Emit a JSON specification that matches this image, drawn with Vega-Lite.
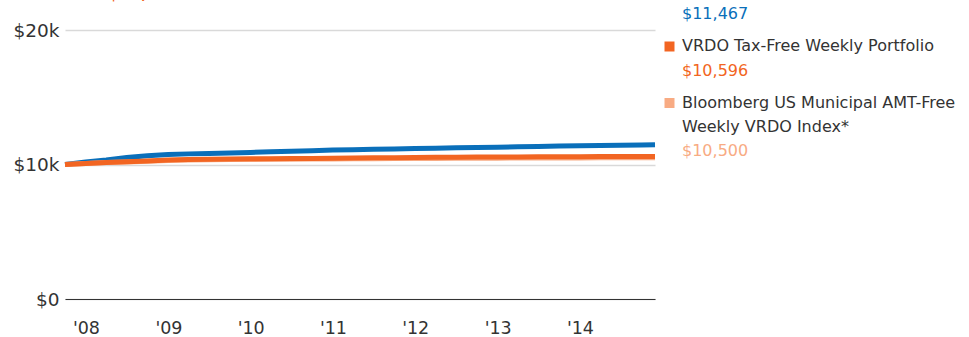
{
  "$schema": "https://vega.github.io/schema/vega-lite/v6.json",
  "padding": {"left": 12, "top": -16, "right": 0, "bottom": 0},
  "background": "white",
  "spacing": -1,
  "config": {"view": {"stroke": null}, "font": "DejaVu Sans"},
  "hconcat": [
    {
      "width": 590,
      "height": 269,
      "title": {"text": "Growth of $10,000", "anchor": "start", "frame": "bounds", "color": "#f26522", "fontSize": 16, "fontWeight": "bold", "font": "DejaVu Sans", "offset": 19},
      "data": {"values": [
        {"date": "2007-09-30", "Blue": 10000, "Index": 10000, "Fund": 10000},
        {"date": "2007-12-31", "Blue": 10180, "Index": 10075, "Fund": 10080},
        {"date": "2008-03-31", "Blue": 10330, "Index": 10140, "Fund": 10150},
        {"date": "2008-06-30", "Blue": 10520, "Index": 10185, "Fund": 10200},
        {"date": "2008-09-30", "Blue": 10650, "Index": 10240, "Fund": 10260},
        {"date": "2008-12-31", "Blue": 10750, "Index": 10305, "Fund": 10330},
        {"date": "2009-03-31", "Blue": 10790, "Index": 10340, "Fund": 10370},
        {"date": "2009-06-30", "Blue": 10820, "Index": 10360, "Fund": 10395},
        {"date": "2009-09-30", "Blue": 10850, "Index": 10370, "Fund": 10410},
        {"date": "2009-12-31", "Blue": 10900, "Index": 10378, "Fund": 10420},
        {"date": "2010-03-31", "Blue": 10940, "Index": 10386, "Fund": 10430},
        {"date": "2010-06-30", "Blue": 10990, "Index": 10394, "Fund": 10440},
        {"date": "2010-09-30", "Blue": 11030, "Index": 10403, "Fund": 10455},
        {"date": "2010-12-31", "Blue": 11070, "Index": 10412, "Fund": 10470},
        {"date": "2011-03-31", "Blue": 11100, "Index": 10422, "Fund": 10485},
        {"date": "2011-06-30", "Blue": 11130, "Index": 10432, "Fund": 10500},
        {"date": "2011-09-30", "Blue": 11160, "Index": 10440, "Fund": 10510},
        {"date": "2011-12-31", "Blue": 11185, "Index": 10447, "Fund": 10520},
        {"date": "2012-03-31", "Blue": 11210, "Index": 10454, "Fund": 10530},
        {"date": "2012-06-30", "Blue": 11240, "Index": 10461, "Fund": 10540},
        {"date": "2012-09-30", "Blue": 11265, "Index": 10467, "Fund": 10550},
        {"date": "2012-12-31", "Blue": 11290, "Index": 10473, "Fund": 10557},
        {"date": "2013-03-31", "Blue": 11320, "Index": 10478, "Fund": 10565},
        {"date": "2013-06-30", "Blue": 11345, "Index": 10483, "Fund": 10572},
        {"date": "2013-09-30", "Blue": 11370, "Index": 10487, "Fund": 10578},
        {"date": "2013-12-31", "Blue": 11390, "Index": 10491, "Fund": 10583},
        {"date": "2014-03-31", "Blue": 11410, "Index": 10494, "Fund": 10587},
        {"date": "2014-06-30", "Blue": 11430, "Index": 10497, "Fund": 10590},
        {"date": "2014-09-30", "Blue": 11450, "Index": 10499, "Fund": 10593},
        {"date": "2014-11-30", "Blue": 11467, "Index": 10500, "Fund": 10596}
      ]},
      "transform": [{"fold": ["Blue", "Index", "Fund"], "as": ["series", "value"]}],
      "mark": {"type": "line", "strokeWidth": 5, "strokeCap": "butt"},
      "encoding": {
        "x": {
          "field": "date", "type": "temporal",
          "axis": {"format": "'%y", "tickCount": {"interval": "year", "step": 1}, "ticks": false, "grid": false, "domain": true, "domainColor": "#333333", "domainWidth": 1, "labelFontSize": 17.5, "labelColor": "#333333", "labelPadding": 20.5, "labelFlush": false, "title": null}
        },
        "y": {
          "field": "value", "type": "quantitative",
          "scale": {"domain": [0, 20000], "nice": false},
          "axis": {"values": [0, 10000, 20000], "labelExpr": "datum.value == 0 ? '$0' : '$' + (datum.value / 1000) + 'k'", "ticks": false, "domain": false, "grid": true, "gridColor": "#d9d9d9", "gridWidth": 1.5, "labelFontSize": 18.5, "labelColor": "#333333", "labelPadding": 6, "title": null}
        },
        "color": {
          "field": "series", "type": "nominal",
          "scale": {"domain": ["Blue", "Fund", "Index"], "range": ["#0a6fba", "#f26522", "#f8ab83"]},
          "legend": null
        }
      }
    },
    {
      "width": 1,
      "height": 169.5,
      "data": {"values": [
        {"series": "Blue", "part": "value", "line": 1, "text": "$11,467"},
        {"series": "Fund", "part": "label", "line": 0, "text": "VRDO Tax-Free Weekly Portfolio"},
        {"series": "Fund", "part": "value", "line": 1, "text": "$10,596"},
        {"series": "Index", "part": "label", "line": 0, "text": "Bloomberg US Municipal AMT-Free"},
        {"series": "Index", "part": "label", "line": 1, "text": "Weekly VRDO Index*"},
        {"series": "Index", "part": "value", "line": 2, "text": "$10,500"}
      ]},
      "encoding": {
        "y": {"field": "series", "type": "nominal", "scale": {"domain": ["Blue", "Fund", "Index"], "range": [-44.25, 125.25], "paddingInner": 0, "paddingOuter": 0}, "axis": null},
        "yOffset": {"field": "line", "type": "ordinal", "scale": {"type": "point", "domain": [0, 1, 2], "padding": 0.177}}
      },
      "layer": [
        {
          "data": {"values": [{"series": "Blue", "line": 0}, {"series": "Fund", "line": 0}, {"series": "Index", "line": 0}]},
          "mark": {"type": "square", "size": 100, "opacity": 1, "filled": true},
          "encoding": {
            "color": {"field": "series", "type": "nominal", "scale": {"domain": ["Blue", "Fund", "Index"], "range": ["#0a6fba", "#f26522", "#f8ab83"]}, "legend": null}
          }
        },
        {
          "transform": [{"filter": "datum.part == 'label'"}],
          "mark": {"type": "text", "align": "left", "baseline": "middle", "dx": 12.5, "fontSize": 16, "color": "#333333"},
          "encoding": {"text": {"field": "text"}}
        },
        {
          "transform": [{"filter": "datum.part == 'value'"}],
          "mark": {"type": "text", "align": "left", "baseline": "middle", "dx": 12.5, "fontSize": 16},
          "encoding": {
            "text": {"field": "text"},
            "color": {"field": "series", "type": "nominal", "scale": {"domain": ["Blue", "Fund", "Index"], "range": ["#1a7cc6", "#f26522", "#f8ab83"]}, "legend": null}
          }
        }
      ]
    }
  ]
}
